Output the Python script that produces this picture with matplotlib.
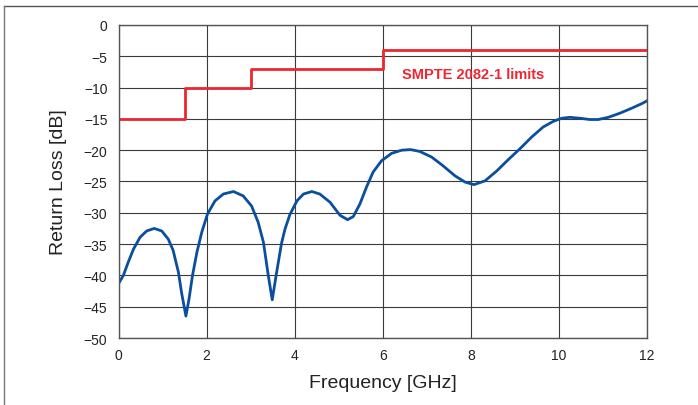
import matplotlib
matplotlib.use("Agg")
import matplotlib.pyplot as plt
from matplotlib.lines import Line2D

plt.rcParams['font.family'] = ['Liberation Sans', 'DejaVu Sans']

freq = [0.01, 0.11, 0.22, 0.34, 0.49, 0.64, 0.81, 0.98, 1.13, 1.24, 1.36, 1.43, 1.53,
        1.60, 1.68, 1.78, 1.89, 2.02, 2.19, 2.38, 2.61, 2.83, 3.02, 3.17, 3.29, 3.40,
        3.49, 3.59, 3.70, 3.78, 3.89, 4.05, 4.20, 4.39, 4.57, 4.80, 5.03, 5.20, 5.33,
        5.48, 5.63, 5.78, 5.97, 6.20, 6.43, 6.63, 6.84, 7.11, 7.37, 7.64, 7.87, 8.07,
        8.32, 8.59, 8.85, 9.11, 9.38, 9.64, 9.87, 10.06, 10.25, 10.48, 10.70, 10.89,
        11.12, 11.38, 11.65, 11.90, 12.0]
loss = [-41.2, -40.0, -37.9, -35.8, -33.9, -32.9, -32.5, -32.9, -34.2, -36.0, -39.5,
        -42.7, -46.5, -43.8, -40.0, -36.3, -33.1, -30.2, -28.1, -27.0, -26.6, -27.3,
        -28.9, -31.5, -34.7, -40.0, -43.9, -39.5, -34.9, -32.6, -30.3, -28.1, -27.0,
        -26.6, -27.0, -28.3, -30.4, -31.1, -30.6, -28.6, -25.9, -23.5, -21.7, -20.5,
        -20.0, -19.9, -20.2, -21.1, -22.5, -24.1, -25.1, -25.5, -24.9, -23.3, -21.5,
        -19.8, -17.9, -16.3, -15.4, -14.9, -14.75, -14.9, -15.1, -15.1, -14.75, -14.1,
        -13.3, -12.5, -12.1]

# SMPTE limit steps
lim_f = [0, 1.5, 3, 6, 12]
lim_v = [-15, -10, -7, -4, -4]

fig = plt.figure(figsize=(6.98, 4.06), dpi=100)
ax = fig.add_axes([0.1698, 0.165, 0.7572, 0.771])

ax.plot(lim_f, lim_v, drawstyle="steps-post", color="#ee2630", lw=2.0)
ax.plot(freq, loss, color="#0a4f9e", lw=2.0, solid_joinstyle="round")

ax.text(8.04, -7.8, "SMPTE 2082-1 limits", color="#ee2630", fontsize=10.5,
        fontweight="bold", ha="center", va="center")

ax.set_xlim(0, 12)
ax.set_ylim(-50, 0)
ax.set_xticks(range(0, 13, 2))
ax.set_yticks(range(-50, 1, 5))
ax.grid(True, color="#3a3a3a", lw=0.8)
ax.tick_params(length=0, labelsize=10, colors="#222222")
ax.tick_params(axis="y", pad=8)
ax.tick_params(axis="x", pad=7)
for s in ax.spines.values():
    s.set_color("#555555")
    s.set_linewidth(1.0)

ax.set_xlabel("Frequency [GHz]", fontsize=14, color="#222222", labelpad=9)
ax.set_ylabel("Return Loss [dB]", fontsize=14, color="#222222", labelpad=12)

# partial frame around the figure
fig.add_artist(Line2D([4 / 698, 697 / 698], [1 - 7 / 406, 1 - 7 / 406], color="#555555", lw=1.0))
fig.add_artist(Line2D([4 / 698, 4 / 698], [0, 1 - 7 / 406], color="#777777", lw=1.0))

fig.savefig("out.png", dpi=100)
